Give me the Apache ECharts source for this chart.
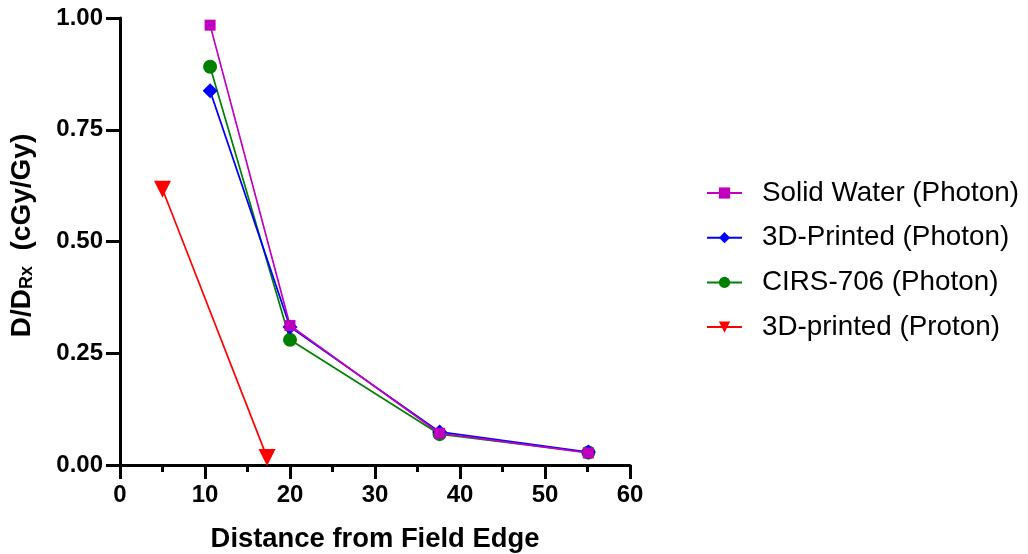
<!DOCTYPE html>
<html>
<head>
<meta charset="utf-8">
<script src="https://cdn.jsdelivr.net/npm/echarts@6/dist/echarts.min.js"></script>
<style>
  html, body { margin: 0; padding: 0; background: #fff; }
  #chart { width: 1028px; height: 554px; }
</style>
</head>
<body>
<div id="chart"></div>
<script>
// Distance from field edge (x) and relative dose D/D_Rx (y) for each phantom
const solidWaterX = [10.6, 20.0, 37.6, 55.1];
const solidWaterY = [0.984, 0.312, 0.071, 0.027];
const printedPhotonX = [10.6, 20.0, 37.6, 55.1];
const printedPhotonY = [0.837, 0.309, 0.074, 0.029];
const cirsX = [10.6, 20.0, 37.6, 55.1];
const cirsY = [0.891, 0.280, 0.069, 0.028];
const printedProtonX = [5.0, 17.3];
const printedProtonY = [0.617, 0.017];

const seriesNames = ['Solid Water (Photon)', '3D-Printed (Photon)', 'CIRS-706 (Photon)', '3D-printed (Proton)'];
const yTicks = [0, 0.25, 0.5, 0.75, 1.0];

const pairs = (xs, ys) => xs.map((x, i) => [x, ys[i]]);
const FONT = '"Liberation Sans", Arial, sans-serif';

const chart = echarts.init(document.getElementById('chart'));

function lineSeries(name, data, color, symbol, size, z) {
  return {
    name: name,
    type: 'line',
    data: data,
    symbol: symbol,
    symbolSize: size,
    z: z,
    lineStyle: { color: color, width: 1.7 },
    itemStyle: { color: color },
    emphasis: { disabled: true },
    animation: false
  };
}

chart.setOption({
  animation: false,
  textStyle: { fontFamily: FONT },
  grid: {
    left: 120, top: 18, width: 510, height: 447,
    containLabel: false,
    outerBoundsMode: 'none'
  },
  legend: {
    orient: 'vertical',
    left: 701,
    top: 174,
    itemWidth: 35,
    itemHeight: 14,
    itemGap: 16.7,
    data: seriesNames,
    textStyle: { fontFamily: FONT, fontSize: 27.8, color: '#000', padding: [0, 0, 0, 15] }
  },
  xAxis: {
    type: 'value',
    min: 0,
    max: 60,
    interval: 10,
    name: 'Distance from Field Edge',
    nameLocation: 'middle',
    nameGap: 61,
    nameTextStyle: { fontFamily: FONT, fontSize: 27.4, fontWeight: 'bold', color: '#000' },
    axisLine: { show: true, onZero: false, lineStyle: { color: '#000', width: 3 } },
    axisTick: { show: true, length: 14, lineStyle: { color: '#000', width: 3 } },
    minorTick: { show: true, splitNumber: 2, length: 7, lineStyle: { color: '#000', width: 3 } },
    axisLabel: { fontFamily: FONT, fontSize: 24, fontWeight: 'bold', color: '#000', margin: 18 },
    splitLine: { show: false }
  },
  yAxis: {
    type: 'value',
    min: 0,
    max: 1,
    interval: 0.25,
    name: '{a|D/D}{sub|Rx}{a|  (cGy/Gy)}',
    nameLocation: 'middle',
    nameRotate: 90,
    nameGap: 84,
    nameTextStyle: {
      padding: [0, 0, 0, 12],
      rich: {
        a: { fontFamily: FONT, fontSize: 28, fontWeight: 'bold', color: '#000' },
        sub: { fontFamily: FONT, fontSize: 18, fontWeight: 'bold', color: '#000', padding: [10, 0, 0, 0] }
      }
    },
    axisLine: { show: true, lineStyle: { color: '#000', width: 3 } },
    axisTick: { show: true, length: 14, lineStyle: { color: '#000', width: 3 } },
    axisLabel: {
      fontFamily: FONT, fontSize: 24, fontWeight: 'bold', color: '#000', margin: 17,
      customValues: yTicks,
      formatter: v => v.toFixed(2)
    },
    splitLine: { show: false }
  },
  series: [
    lineSeries(seriesNames[3], pairs(printedProtonX, printedProtonY), '#ff0000', 'path://M0,0 L10,0 L5,8 Z', 17, 2),
    lineSeries(seriesNames[2], pairs(cirsX, cirsY), '#008000', 'circle', 14, 3),
    lineSeries(seriesNames[1], pairs(printedPhotonX, printedPhotonY), '#0000ff', 'diamond', 15, 4),
    lineSeries(seriesNames[0], pairs(solidWaterX, solidWaterY), '#bf00bf', 'rect', 11, 5)
  ]
});
</script>
</body>
</html>
